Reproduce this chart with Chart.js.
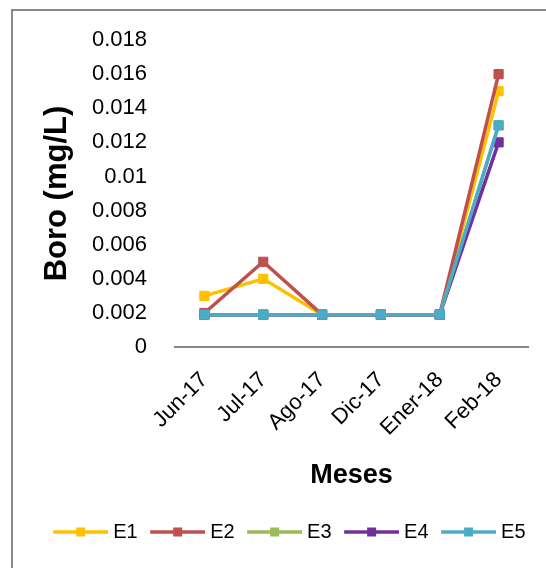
<!DOCTYPE html>
<html>
<head>
<meta charset="utf-8">
<script src="https://cdn.jsdelivr.net/npm/chart.js@4"></script>
<style>
  html, body { margin: 0; padding: 0; background: #fff; overflow: hidden; }
  #wrap { position: relative; width: 546px; height: 568px; }
  #frame { position: absolute; left: 11px; top: 9px; width: 600px; height: 700px; border: 2px solid #898989; box-sizing: border-box; }
  #c { position: absolute; left: 0; top: 0; }
</style>
</head>
<body>
<div id="wrap"><div id="frame"></div><canvas id="c" width="546" height="568"></canvas></div>
<script>
// data
const months = ['Jun-17', 'Jul-17', 'Ago-17', 'Dic-17', 'Ener-18', 'Feb-18'];
const seriesNames = ['E1', 'E2', 'E3', 'E4', 'E5'];
const seriesColors = ['#FFC000', '#C0504D', '#9BBB59', '#7030A0', '#4BACC6'];
const e1 = [0.003, 0.004, 0.0019, 0.0019, 0.0019, 0.015];
const e2 = [0.002, 0.005, 0.0019, 0.0019, 0.0019, 0.016];
const e3 = [0.0019, 0.0019, 0.0019, 0.0019, 0.0019, 0.013];
const e4 = [0.0019, 0.0019, 0.0019, 0.0019, 0.0019, 0.012];
const e5 = [0.0019, 0.0019, 0.0019, 0.0019, 0.0019, 0.013];
const yTickValues = [0, 0.002, 0.004, 0.006, 0.008, 0.01, 0.012, 0.014, 0.016, 0.018];

const series = [e1, e2, e3, e4, e5];
const family = '"Liberation Sans", Arial, sans-serif';

// legend glyph: short line with a square in the middle (like Excel)
function legendMarker(color) {
  const c = document.createElement('canvas');
  c.width = 70;
  c.height = 14;
  const g = c.getContext('2d');
  g.strokeStyle = color;
  g.lineWidth = 3.5;
  g.beginPath();
  g.moveTo(15, 7);
  g.lineTo(70, 7);
  g.stroke();
  g.fillStyle = color;
  g.fillRect(38, 2.5, 9, 9);
  return c;
}
const markers = seriesColors.map(legendMarker);

new Chart(document.getElementById('c'), {
  type: 'line',
  data: {
    labels: months,
    datasets: seriesNames.map((name, i) => ({
      label: name,
      data: series[i],
      borderColor: seriesColors[i],
      backgroundColor: seriesColors[i],
      borderWidth: 3.5,
      pointStyle: 'rect',
      pointRadius: 6.5,
      pointBorderWidth: 1,
      pointBorderColor: seriesColors[i],
      pointBackgroundColor: seriesColors[i],
      tension: 0,
      order: seriesNames.length - i, // later series on top, as in Excel
    })),
  },
  options: {
    responsive: false,
    animation: false,
    layout: { padding: { left: 12, right: 18, top: 40, bottom: 16 } },
    plugins: {
      tooltip: { enabled: false },
      legend: {
        position: 'bottom',
        align: 'end',
        labels: {
          usePointStyle: true,
          pointStyleWidth: 60,
          padding: 2.5,
          color: '#000',
          font: { family, size: 20 },
          sort: (a, b) => a.datasetIndex - b.datasetIndex,
          generateLabels: (chart) =>
            Chart.defaults.plugins.legend.labels.generateLabels(chart).map((it) => ({
              ...it,
              pointStyle: markers[it.datasetIndex],
            })),
        },
      },
    },
    scales: {
      x: {
        offset: true,
        grid: { display: false },
        border: { display: true, color: '#868686', width: 2 },
        ticks: { color: '#000', font: { family, size: 22 }, autoSkip: false, minRotation: 45, maxRotation: 45, padding: 12 },
        title: {
          display: true,
          text: 'Meses',
          color: '#000',
          font: { family, size: 27, weight: 'bold' },
          padding: { top: 6, bottom: 28 },
        },
      },
      y: {
        min: 0,
        max: 0.018,
        afterBuildTicks: (s) => { s.ticks = yTickValues.map((v) => ({ value: v })); },
        afterFit: (s) => { s.width = 163; },
        grid: { display: false },
        border: { display: false },
        ticks: { color: '#000', font: { family, size: 22 }, padding: 20, callback: (v) => String(v) },
        title: {
          display: true,
          text: 'Boro (mg/L)',
          color: '#000',
          font: { family, size: 31, weight: 'bold' },
          padding: { top: 27, bottom: 0 },
        },
      },
    },
  },
});
</script>
</body>
</html>
